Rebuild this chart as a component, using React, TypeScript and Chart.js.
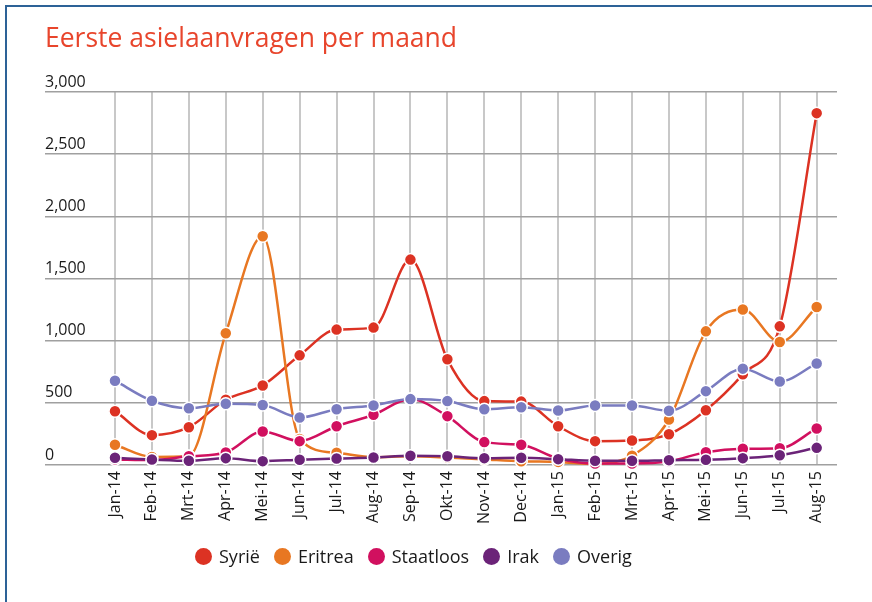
import React, { useEffect, useRef } from "react";
import { Chart, registerables } from "chart.js";

Chart.register(...registerables);

const months = [
  "Jan-14", "Feb-14", "Mrt-14", "Apr-14", "Mei-14", "Jun-14", "Jul-14", "Aug-14", "Sep-14", "Okt-14",
  "Nov-14", "Dec-14", "Jan-15", "Feb-15", "Mrt-15", "Apr-15", "Mei-15", "Jun-15", "Jul-15", "Aug-15",
];
const syrie = [433, 240, 304, 525, 640, 882, 1089, 1105, 1652, 850, 514, 510, 312, 192, 197, 248, 441, 729, 1115, 2830];
const eritrea = [163, 65, 72, 1059, 1840, 210, 98, 63, 70, 60, 45, 30, 25, 8, 75, 366, 1075, 1250, 989, 1271];
const staatloos = [45, 40, 70, 100, 270, 192, 312, 404, 530, 393, 184, 163, 52, 12, 12, 30, 103, 130, 135, 294];
const irak = [58, 44, 34, 55, 31, 42, 52, 60, 74, 70, 55, 58, 47, 34, 34, 39, 42, 55, 79, 138];
const overig = [678, 517, 457, 493, 482, 382, 449, 479, 530, 514, 449, 465, 439, 479, 479, 436, 594, 775, 672, 817];
const yTicks = [0, 500, 1000, 1500, 2000, 2500, 3000];
const seriesNames = ["Syrië", "Eritrea", "Staatloos", "Irak", "Overig"];
const seriesColors = ["#DC3223", "#E87722", "#D1105F", "#6B2378", "#7A7CC0"];
const seriesValues = [syrie, eritrea, staatloos, irak, overig];
const title = "Eerste asielaanvragen per maand";

const FONT = '"Open Sans", "DejaVu Sans", sans-serif';

export default function App() {
  const ref = useRef<HTMLCanvasElement>(null);

  useEffect(() => {
    const canvas = ref.current;
    if (!canvas) return;
    const datasets = seriesValues.map((vals, k) => ({
      label: seriesNames[k],
      data: vals.map((v, i) => ({ x: i, y: v })),
      borderColor: seriesColors[k],
      backgroundColor: seriesColors[k],
      pointBackgroundColor: seriesColors[k],
      pointBorderColor: "#ffffff",
      pointBorderWidth: 1.5,
      pointRadius: 6,
      borderWidth: 2.5,
      cubicInterpolationMode: "monotone" as const,
      fill: false,
      clip: false as any,
      order: seriesNames.length - k,
    }));
    const chart = new Chart(canvas, {
      type: "line",
      data: { datasets },
      options: {
        animation: false,
        responsive: false,
        devicePixelRatio: 1,
        layout: { padding: { left: 45, right: 35, top: 92, bottom: 0 } },
        plugins: {
          legend: { display: false },
          title: { display: false },
          tooltip: { enabled: false },
        },
        scales: {
          x: {
            type: "linear",
            min: -1.895,
            max: 19.55,
            bounds: "data",
            afterBuildTicks: (s: any) => {
              s.ticks = months.map((_, i) => ({ value: i }));
            },
            afterFit: (s: any) => {
              s.height = 137;
              s.paddingLeft = 0;
              s.paddingRight = 0;
              s.paddingTop = 0;
              s.paddingBottom = 0;
            },
            grid: { color: "#c8c8c8", lineWidth: 2, drawTicks: false },
            border: { display: false },
            ticks: {
              autoSkip: false,
              minRotation: 90,
              maxRotation: 90,
              padding: 6,
              color: "#1a1a1a",
              font: { family: FONT, size: 16 },
              callback: (v: any) => months[v] ?? "",
            },
          },
          y: {
            type: "linear",
            position: "left",
            min: 0,
            max: 3000,
            afterBuildTicks: (s: any) => {
              s.ticks = yTicks.map((v) => ({ value: v }));
            },
            afterFit: (s: any) => {
              s.width = 0;
              s.paddingTop = 0;
              s.paddingBottom = 0;
              s.paddingLeft = 0;
              s.paddingRight = 0;
            },
            grid: { color: "#a0a0a0", lineWidth: 1.5, drawTicks: false },
            border: { display: false },
            ticks: {
              mirror: true,
              padding: 0,
              labelOffset: -10,
              color: "#1a1a1a",
              font: { family: FONT, size: 16 },
              callback: (v: any) => Number(v).toLocaleString("en-US"),
            },
          },
        },
      },
    });
    return () => chart.destroy();
  }, []);

  return (
    <div style={{ position: "fixed", left: 0, top: 0, width: 872, height: 602, background: "#ffffff", overflow: "hidden" }}>
      <div
        style={{
          position: "absolute",
          left: 5,
          top: 5,
          width: 867,
          height: 597,
          borderTop: "2px solid #2d6297",
          borderLeft: "2px solid #2d6297",
          boxSizing: "border-box",
        }}
      />
      <canvas ref={ref} width={872} height={602} style={{ position: "absolute", left: 0, top: 0, width: 872, height: 602 }} />
      <div
        style={{
          position: "absolute",
          left: 45,
          top: 24,
          fontFamily: FONT,
          fontSize: 26.5,
          lineHeight: "26px",
          color: "#E8452C",
          whiteSpace: "nowrap",
        }}
      >
        {title}
      </div>
      <div
        style={{
          position: "absolute",
          left: 195,
          top: 544,
          display: "flex",
          alignItems: "center",
          gap: 14,
          fontFamily: FONT,
          fontSize: 18,
          lineHeight: "24px",
          color: "#1a1a1a",
          whiteSpace: "nowrap",
        }}
      >
        {seriesNames.map((n, k) => (
          <div key={n} style={{ display: "flex", alignItems: "center", gap: 7 }}>
            <span style={{ width: 17, height: 17, borderRadius: "50%", background: seriesColors[k], display: "inline-block" }} />
            <span>{n}</span>
          </div>
        ))}
      </div>
    </div>
  );
}
